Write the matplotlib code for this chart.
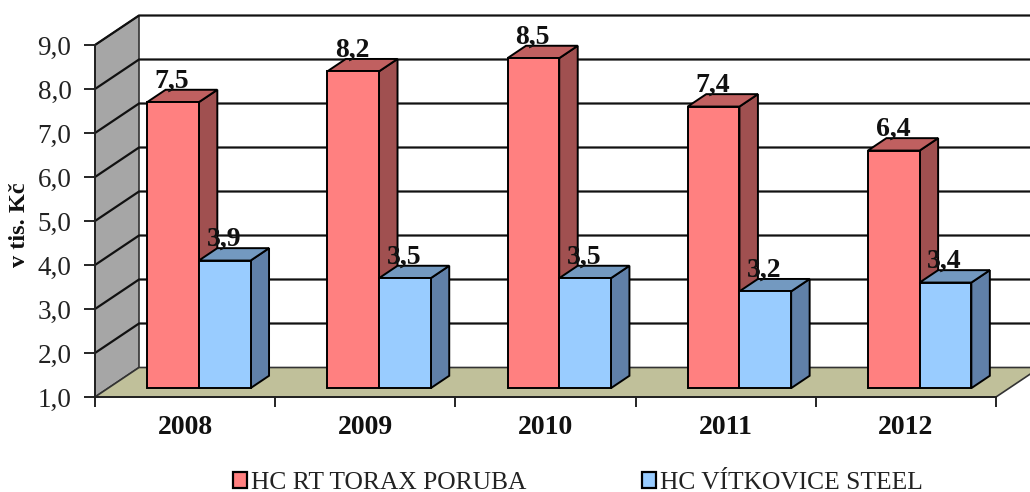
import numpy as np
import matplotlib
matplotlib.use('Agg')
import matplotlib.pyplot as plt
from matplotlib.patches import Polygon

plt.rcParams['font.family'] = ['Liberation Serif', 'DejaVu Serif']

years = ['2008', '2009', '2010', '2011', '2012']
torax = [7.5, 8.2, 8.5, 7.4, 6.4]
vitkovice = [3.9, 3.5, 3.5, 3.2, 3.4]
torax_labels = ['7,5', '8,2', '8,5', '7,4', '6,4']
vitkovice_labels = ['3,9', '3,5', '3,5', '3,2', '3,4']
yticks = [1, 2, 3, 4, 5, 6, 7, 8, 9]
ytick_labels = ['1,0', '2,0', '3,0', '4,0', '5,0', '6,0', '7,0', '8,0', '9,0']

# posun hloubky v jednotkach dat
DX = 44 / 180.2
DY = 29.5 / 44


def pt(x, y, d):
    return (x + d * DX, y + d * DY)


def box(ax, x0, w, top, front, side, upper, base=1.0, d0=0.3, d1=0.72):
    x1 = x0 + w
    ax.add_patch(Polygon([pt(x1, base, d0), pt(x1, base, d1), pt(x1, top, d1), pt(x1, top, d0)],
                         fc=side, ec='black', lw=1.4, zorder=4, clip_on=False))
    ax.add_patch(Polygon([pt(x0, top, d0), pt(x1, top, d0), pt(x1, top, d1), pt(x0, top, d1)],
                         fc=upper, ec='black', lw=1.4, zorder=4, clip_on=False))
    ax.add_patch(Polygon([pt(x0, base, d0), pt(x1, base, d0), pt(x1, top, d0), pt(x0, top, d0)],
                         fc=front, ec='black', lw=1.4, zorder=5, clip_on=False))


def bar_label(ax, x, top, s):
    # popisek je nad predni hranou, vyska podle zadni hrany
    lx = pt(x, top, 0.3)[0]
    ly = pt(x, top, 0.72)[1]
    ax.text(lx - 0.005, ly - 0.08, s, ha='center', va='bottom', fontsize=20, fontweight='bold',
            color='#111111', zorder=6, clip_on=False)


fig = plt.figure(figsize=(10.3, 4.92), dpi=100)
ax = fig.add_axes([95 / 1030, 95 / 492, 901 / 1030, 352 / 492])
ax.set_xlim(0, 5)
ax.set_ylim(1, 9)
ax.patch.set_alpha(0)

# levá stěna a podlaha
ax.add_patch(Polygon([pt(0, 1, 0), pt(0, 1, 1), pt(0, 9, 1), pt(0, 9, 0)],
                     fc='#a6a6a6', ec='#333333', lw=1.2, zorder=1, clip_on=False))
ax.add_patch(Polygon([pt(0, 1, 0), pt(5, 1, 0), pt(5, 1, 1), pt(0, 1, 1)],
                     fc='#c0c09a', ec='#333333', lw=1.2, zorder=1, clip_on=False))

# mřížka
for v in yticks[1:]:
    a = pt(0, v, 0)
    b = pt(0, v, 1)
    c = pt(5, v, 1)
    ax.plot([a[0], b[0], c[0]], [a[1], b[1], c[1]], color='#111111', lw=1.6, zorder=2, clip_on=False)

w = 0.287
for i in range(len(years)):
    x0 = i + 0.216
    box(ax, x0, w, torax[i], '#ff8080', '#a05050', '#c06060')
    box(ax, x0 + w, w, vitkovice[i], '#99ccff', '#6080a8', '#7399c0')
    bar_label(ax, x0 + w * 0.5, torax[i], torax_labels[i])
    bar_label(ax, x0 + w * 1.5, vitkovice[i], vitkovice_labels[i])

for s in ['top', 'right']:
    ax.spines[s].set_visible(False)
for s in ['left', 'bottom']:
    ax.spines[s].set_linewidth(1.4)
    ax.spines[s].set_color('#222222')
    ax.spines[s].set_zorder(3)

ax.set_yticks(yticks)
ax.set_yticklabels(ytick_labels, fontsize=19.5, color='#222222')
ax.set_xticks(range(6))
ax.set_xticklabels([])
ax.set_xticks(np.arange(5) + 0.5, labels=years, minor=True, fontsize=20, fontweight='bold', color='#111111')
ax.tick_params(axis='x', which='minor', length=0, pad=13)
ax.tick_params(axis='x', which='major', length=7, width=1.2)
ax.tick_params(axis='y', length=8, width=1.2, pad=9)
ax.set_ylabel('v tis. Kč', fontsize=17.5, fontweight='bold', color='#111111')
ax.yaxis.set_label_coords(-0.072, 0.49)

# legenda
h = [plt.Rectangle((0, 0), 1, 1, fc='#ff8080', ec='black', lw=1.6),
     plt.Rectangle((0, 0), 1, 1, fc='#99ccff', ec='black', lw=1.6)]
fig.legend(h, ['HC RT TORAX PORUBA', 'HC VÍTKOVICE STEEL'], loc='lower left',
           bbox_to_anchor=(233 / 1030, -0.004), ncol=2, frameon=False, fontsize=18.4,
           borderpad=0, borderaxespad=0,
           handlelength=0.55, handleheight=0.55, handletextpad=0.16, columnspacing=4.5,
           labelcolor='#222222')

fig.savefig('out.png', dpi=100, facecolor='white')
